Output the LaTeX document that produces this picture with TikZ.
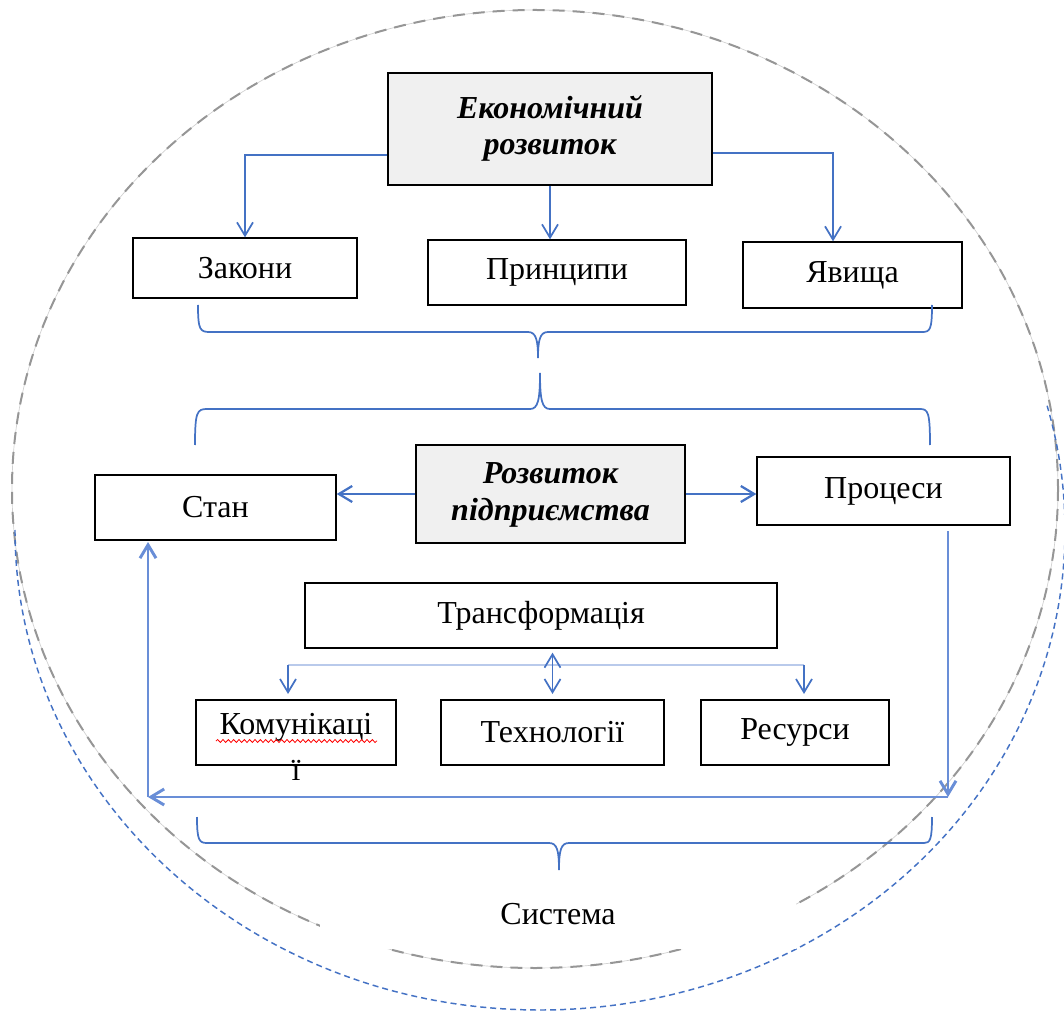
\documentclass[tikz,border=0pt]{standalone}
\usepackage{fontspec}
\setmainfont{Liberation Serif}
\usetikzlibrary{arrows.meta,decorations.pathmorphing}
\definecolor{lnblue}{RGB}{68,114,196}
\definecolor{fbblue}{RGB}{105,142,215}
\definecolor{lightln}{RGB}{185,202,235}
\definecolor{boxgray}{RGB}{240,240,240}
\definecolor{circgray}{RGB}{150,150,150}
\begin{document}
\begin{tikzpicture}[x=0.75pt,y=-0.75pt,
  every node/.style={font=\fontsize{24}{29}\selectfont, inner sep=0pt},
  box/.style={draw=black, line width=1pt, fill=white, align=center},
  graybox/.style={box, fill=boxgray, font=\fontsize{24}{29}\selectfont\bfseries\itshape},
  tip/.style={-{Straight Barb[length=10pt,width=12pt]}},
  conn/.style={draw=lnblue, line width=1.3pt},
  fb/.style={draw=fbblue, line width=2.2pt},
  brc/.style={draw=lnblue, line width=1.3pt}]
\useasboundingbox (0,0) rectangle (1064,1012);

% outer ellipses
\draw[circgray!45, line width=0.5pt] (535,489) ellipse [x radius=523, y radius=479];
\draw[circgray, line width=1.5pt, dash pattern=on 9pt off 6pt] (535,489) ellipse [x radius=523, y radius=479];
\draw[lnblue, line width=1.1pt, dash pattern=on 4.5pt off 3pt] (15,530) arc [start angle=180, end angle=-15, x radius=525, y radius=480];

% nodes
\node[graybox, minimum width=243pt, minimum height=84pt] (econ) at (550,129) {\raisebox{4pt}{\begin{tabular}{c}Економічний\\[-2pt]розвиток\end{tabular}}};
\node[box, minimum width=168pt, minimum height=45pt] (zak) at (245,268) {Закони};
\node[box, minimum width=193.5pt, minimum height=48.75pt] (prin) at (557,272.5) {Принципи};
\node[box, minimum width=164.25pt, minimum height=49.5pt] (yav) at (852.5,275) {Явища};

\node[graybox, minimum width=201.75pt, minimum height=73.5pt] (rozv) at (550.5,494) {\raisebox{3pt}{\begin{tabular}{c}Розвиток\\[-1pt]підприємства\end{tabular}}};
\node[box, minimum width=180.75pt, minimum height=48.75pt] (stan) at (215.5,507.5) {Стан};
\node[box, minimum width=189.75pt, minimum height=51pt] (proc) at (883.5,491) {Процеси};

\node[box, minimum width=354pt, minimum height=48.75pt] (trans) at (541,615.5) {Трансформація};
\node[box, minimum width=150pt, minimum height=48.75pt] (kom) at (296,732.5) {};
\node[box, minimum width=167.25pt, minimum height=48.75pt] (tech) at (552.5,732.5) {Технології};
\node[box, minimum width=141pt, minimum height=48.75pt] (res) at (795,732.5) {Ресурси};
\node (komt) at (296,727) {Комунікаці};
\node (komt2) at (296,770) {ї};
\draw[red, line width=0.6pt, decorate, decoration={snake, amplitude=1.1pt, segment length=4pt}] (216,741) -- (377,741);

% Система label (white background covers part of the ellipse)
\node[fill=white, minimum width=357pt, minimum height=52pt] (sys) at (558,914) {Система};

% connectors from top box
\draw[conn, tip] ([yshift=-19.5pt]econ.west) -| (zak.north);
\draw[conn, tip] (econ.south) -- (econ.south |- prin.north);
\draw[conn, tip] ([yshift=-18pt]econ.east) -| ([xshift=-14.6pt]yav.north);

% braces
\draw[brc] (198,305) .. controls (198,330) and (200,332) .. (210,332) -- (528,332) .. controls (536,332) and (538,340) .. (538,358) .. controls (538,340) and (540,332) .. (548,332) -- (922,332) .. controls (930,332) and (932,330) .. (932,305);
\draw[brc] (195,445) .. controls (195,412) and (197,409) .. (207,409) -- (530,409) .. controls (538,409) and (540,400) .. (540,373) .. controls (540,400) and (542,409) .. (550,409) -- (920,409) .. controls (928,409) and (930,412) .. (930,445);
\draw[brc] (197,817) .. controls (197,840) and (199,843) .. (207,843) -- (549,843) .. controls (557,843) and (559,850) .. (559,870) .. controls (559,850) and (561,843) .. (569,843) -- (924,843) .. controls (930,843) and (932,840) .. (932,817);

% development arrows
\draw[conn, line width=1.7pt, tip] (rozv.west) -- (rozv.west -| stan.east);
\draw[conn, line width=1.7pt, tip] (rozv.east) -- (rozv.east -| proc.west);

% transformation
\coordinate (hl) at (288,665);
\coordinate (hr) at (804,665);
\draw[lightln, line width=2pt] (hl) -- (hr);
\draw[conn, tip, shorten >=4pt] (hl) -- (hl |- kom.north);
\draw[conn, tip, shorten >=4pt] (hr) -- (hr |- res.north);
\draw[conn, {Straight Barb[length=10pt,width=12pt]}-{Straight Barb[length=10pt,width=12pt]}, shorten <=3pt, shorten >=4pt] (tech.north |- trans.south) -- (tech.north);

% feedback loop
\coordinate (fr) at (948,797);
\coordinate (fl) at (148,797);
\draw[fb, tip, shorten <=4pt] (fr |- proc.south) -- (fr);
\draw[fb, tip] (fr) -- (fl);
\draw[fb, tip, shorten >=1pt] (fl) -- (fl |- stan.south);
\end{tikzpicture}
\end{document}
